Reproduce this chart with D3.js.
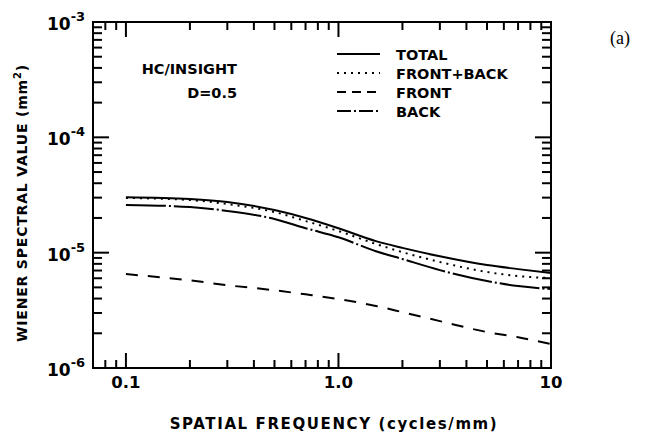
<!DOCTYPE html>
<html>
<head>
<meta charset="utf-8">
<script src="https://cdn.jsdelivr.net/npm/d3@7"></script>
<style>
  body { margin: 0; background: #fff; }
  svg text { font-family: "DejaVu Sans", sans-serif; font-weight: bold; fill: #000; }
</style>
</head>
<body>
<svg id="chart" width="651" height="434"></svg>
<script>
// spatial frequency (cycles/mm)
const freqs = [0.1, 0.2, 0.3, 0.5, 0.7, 1.0, 1.5, 2, 3, 5, 7, 10];
// Wiener spectral values (mm^2)
const total      = [3.03e-5, 2.92e-5, 2.75e-5, 2.34e-5, 2.0e-5, 1.63e-5, 1.26e-5, 1.10e-5, 9.3e-6, 7.8e-6, 7.2e-6, 6.65e-6];
const frontBack  = [2.98e-5, 2.86e-5, 2.64e-5, 2.25e-5, 1.88e-5, 1.54e-5, 1.19e-5, 1.01e-5, 8.3e-6, 6.8e-6, 6.27e-6, 6.02e-6];
const front      = [6.52e-6, 5.75e-6, 5.22e-6, 4.72e-6, 4.35e-6, 3.96e-6, 3.45e-6, 3.05e-6, 2.55e-6, 2.05e-6, 1.85e-6, 1.61e-6];
const back       = [2.59e-5, 2.49e-5, 2.30e-5, 1.96e-5, 1.63e-5, 1.36e-5, 1.03e-5, 8.8e-6, 7.06e-6, 5.68e-6, 5.13e-6, 4.83e-6];
const xTickLabels = ["0.1", "1.0", "10"];
const yTickExps = ["-3", "-4", "-5", "-6"];
const legendNames = ["TOTAL", "FRONT+BACK", "FRONT", "BACK"];

const svg = d3.select("#chart");
const plotL = 93, plotR = 551, plotT = 22, plotB = 368;

const x = d3.scaleLog().domain([0.07, 10]).range([plotL, plotR]);
const y = d3.scaleLog().domain([1e-6, 1e-3]).range([plotB, plotT]);

// minor tick values
const xMinor = [];
for (const dec of [0.01, 0.1, 1]) for (let k = 2; k <= 9; k++) {
  const v = +(dec * k).toFixed(4);
  if (v >= 0.07 && v < 10) xMinor.push(v);
}
const yMinor = [];
for (const dec of [1e-6, 1e-5, 1e-4]) for (let k = 2; k <= 9; k++) yMinor.push(dec * k);
const xMajor = [0.1, 1, 10];
const yMajor = [1e-3, 1e-4, 1e-5, 1e-6];

const axes = svg.append("g").attr("stroke", "#000").attr("stroke-width", 2);

// ticks (all pointing inward)
xMinor.forEach(v => {
  axes.append("line").attr("x1", x(v)).attr("x2", x(v)).attr("y1", plotB).attr("y2", plotB - 8);
  axes.append("line").attr("x1", x(v)).attr("x2", x(v)).attr("y1", plotT).attr("y2", plotT + 8);
});
xMajor.forEach(v => {
  axes.append("line").attr("x1", x(v)).attr("x2", x(v)).attr("y1", plotB).attr("y2", plotB - 15);
  axes.append("line").attr("x1", x(v)).attr("x2", x(v)).attr("y1", plotT).attr("y2", plotT + 15);
});
yMinor.forEach(v => {
  axes.append("line").attr("y1", y(v)).attr("y2", y(v)).attr("x1", plotL).attr("x2", plotL + 9);
  axes.append("line").attr("y1", y(v)).attr("y2", y(v)).attr("x1", plotR).attr("x2", plotR - 9);
});
yMajor.forEach(v => {
  axes.append("line").attr("y1", y(v)).attr("y2", y(v)).attr("x1", plotL).attr("x2", plotL + 16);
  axes.append("line").attr("y1", y(v)).attr("y2", y(v)).attr("x1", plotR).attr("x2", plotR - 16);
});

// frame
axes.append("rect").attr("x", plotL).attr("y", plotT)
  .attr("width", plotR - plotL).attr("height", plotB - plotT).attr("fill", "none");

// x tick labels
svg.selectAll(".xl").data(xMajor).join("text")
  .attr("x", d => x(d)).attr("y", 388)
  .attr("text-anchor", "middle").attr("font-size", 16.5)
  .text((d, i) => xTickLabels[i]);

// y tick labels 10^n
yMajor.forEach((v, i) => {
  const t = svg.append("text").attr("x", 47).attr("y", y(v) + 8).attr("font-size", 17);
  t.append("tspan").text("10");
  t.append("tspan").attr("dy", -9).attr("font-size", 13).text(yTickExps[i]);
});

// axis titles
svg.append("text").attr("x", 334).attr("y", 429).attr("text-anchor", "middle")
  .attr("font-size", 15).attr("letter-spacing", 1.6).text("SPATIAL FREQUENCY (cycles/mm)");
const yt = svg.append("text").attr("transform", "translate(27,203) rotate(-90)")
  .attr("text-anchor", "middle").attr("font-size", 14).attr("letter-spacing", 0.8);
yt.append("tspan").text("WIENER SPECTRAL VALUE (mm");
yt.append("tspan").attr("dy", -6).attr("font-size", 10).text("2");
yt.append("tspan").attr("dy", 6).text(")");

// curves
const styles = [
  { data: total, dash: null },
  { data: frontBack, dash: "2,5" },
  { data: front, dash: "12,10" },
  { data: back, dash: "40,3,2,3" }
];
const line = d3.line().x(d => x(d[0])).y(d => y(d[1])).curve(d3.curveMonotoneX);
styles.forEach(s => {
  svg.append("path").datum(freqs.map((f, i) => [f, s.data[i]]))
    .attr("d", line).attr("fill", "none").attr("stroke", "#000")
    .attr("stroke-width", 2).attr("stroke-dasharray", s.dash);
});

// legend
const legDash = [null, "2,5", "9,6", "14,3,2,3"];
legendNames.forEach((name, i) => {
  const ly = 54 + i * 19;
  svg.append("line").attr("x1", 337).attr("x2", 380).attr("y1", ly).attr("y2", ly)
    .attr("stroke", "#000").attr("stroke-width", 2).attr("stroke-dasharray", legDash[i]);
  svg.append("text").attr("x", 396).attr("y", ly + 6).attr("font-size", 14.5).text(name);
});

// annotations
svg.append("text").attr("x", 237).attr("y", 74).attr("text-anchor", "end").attr("font-size", 14.5).text("HC/INSIGHT");
svg.append("text").attr("x", 237).attr("y", 98).attr("text-anchor", "end").attr("font-size", 14.5).text("D=0.5");
svg.append("text").attr("x", 620).attr("y", 44).attr("text-anchor", "middle")
  .style("font-family", "'Liberation Serif', serif").style("font-weight", "normal").attr("font-size", 18).text("(a)");
</script>
</body>
</html>
